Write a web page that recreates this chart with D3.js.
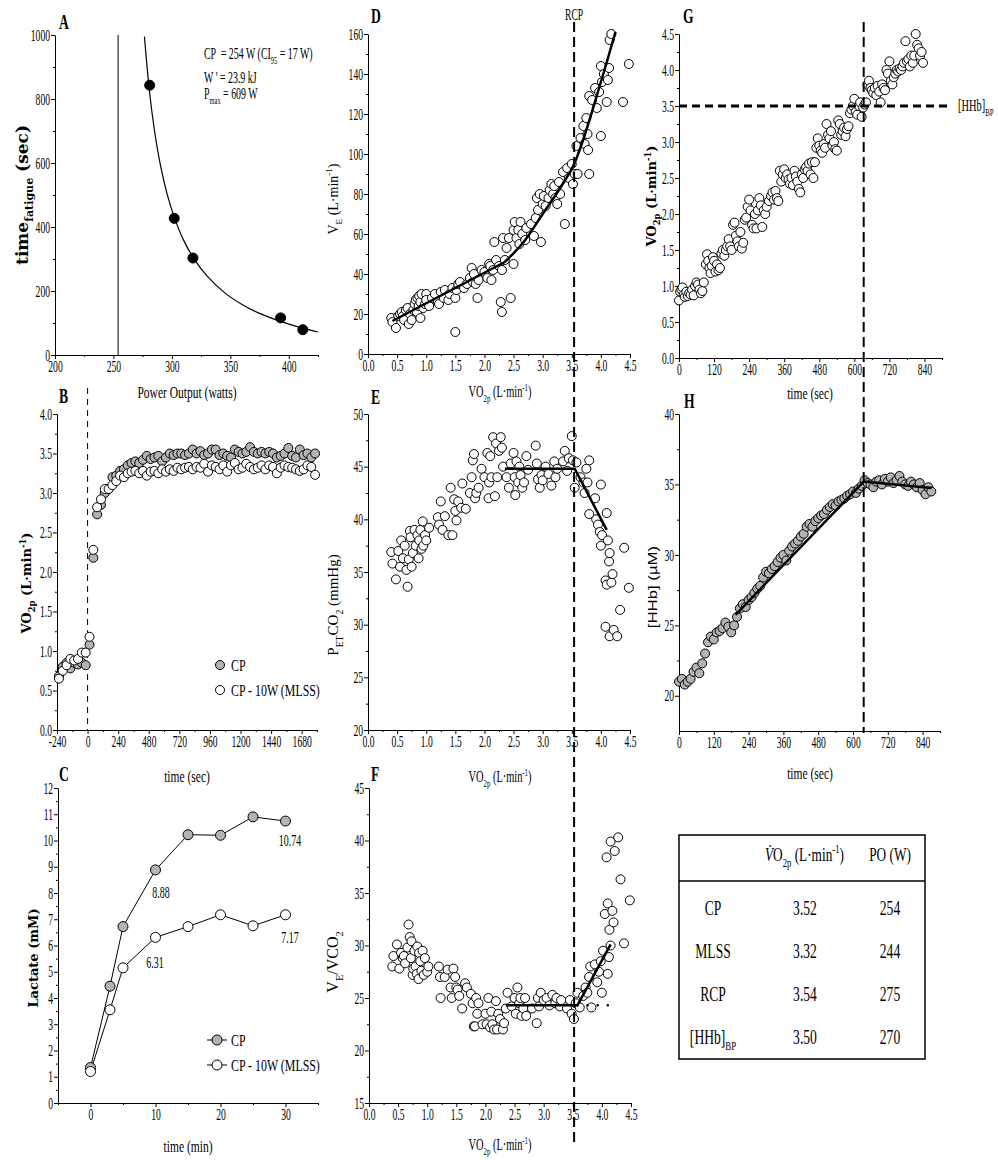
<!DOCTYPE html>
<html>
<head>
<script src="https://d3js.org/d3.v7.min.js"></script>
<style>
  body { margin: 0; background: #fff; }
  text { white-space: pre; }
</style>
</head>
<body>
<script>
// ---- A: time to fatigue vs power
var aPower = [281, 302, 318, 393, 412];
var aTime = [843, 427, 303, 116, 79];
var aFitPower = [276.5, 281, 285, 290, 296, 302, 310, 318, 330, 345, 360, 375, 393, 412, 425];
var aFitTime = [995, 818, 704, 597, 502, 431, 359, 306, 247, 195, 158, 130, 105, 84, 72];
var aCP = 254;

// ---- B: VO2 during constant load (30 s bins)
var bTime = [-225, -195, -165, -135, -105, -75, -45, -15,
  15, 45, 75, 105, 135, 165, 195, 225, 255, 285,
  315, 345, 375, 405, 435, 465, 495, 525, 555, 585,
  615, 645, 675, 705, 735, 765, 795, 825, 855, 885,
  915, 945, 975, 1005, 1035, 1065, 1095, 1125, 1155, 1185,
  1215, 1245, 1275, 1305, 1335, 1365, 1395, 1425, 1455, 1485,
  1515, 1545, 1575, 1605, 1635, 1665, 1695, 1725, 1755, 1785];
var bCP = [0.68, 0.80, 0.85, 0.78, 0.85, 0.83, 0.85, 0.82,
  1.08, 2.18, 2.73, 2.85, 3.00, 3.05, 3.20, 3.22, 3.28, 3.30,
  3.35, 3.38, 3.40, 3.38, 3.42, 3.47, 3.43, 3.45, 3.47, 3.40,
  3.45, 3.50, 3.48, 3.50, 3.50, 3.48, 3.50, 3.55, 3.50, 3.53,
  3.48, 3.50, 3.55, 3.55, 3.48, 3.50, 3.47, 3.45, 3.55, 3.52,
  3.50, 3.52, 3.58, 3.52, 3.50, 3.52, 3.50, 3.52, 3.50, 3.45,
  3.47, 3.50, 3.57, 3.47, 3.45, 3.55, 3.48, 3.50, 3.45, 3.50];
var bMLSS = [0.65, 0.75, 0.82, 0.90, 0.88, 0.90, 0.98, 0.98,
  1.18, 2.28, 2.82, 2.92, 3.05, 3.05, 3.10, 3.15, 3.22, 3.20,
  3.25, 3.27, 3.28, 3.25, 3.28, 3.22, 3.27, 3.28, 3.25, 3.30,
  3.27, 3.30, 3.28, 3.32, 3.30, 3.32, 3.33, 3.30, 3.33, 3.32,
  3.37, 3.27, 3.35, 3.33, 3.30, 3.35, 3.27, 3.35, 3.38, 3.30,
  3.32, 3.37, 3.33, 3.30, 3.32, 3.35, 3.30, 3.35, 3.33, 3.25,
  3.32, 3.35, 3.33, 3.32, 3.30, 3.28, 3.30, 3.35, 3.33, 3.23];

// ---- C: lactate
var cTime = [0, 3, 5, 10, 15, 20, 25, 30];
var cCP = [1.35, 4.45, 6.72, 8.88, 10.22, 10.2, 10.9, 10.74];
var cMLSS = [1.2, 3.55, 5.15, 6.31, 6.72, 7.17, 6.75, 7.17];

// ---- D: VE vs VO2
var dPts = [[0.40,18],[0.42,16],[0.48,13],[0.52,19],[0.55,20],[0.58,21],[0.60,19],[0.62,17],[0.65,22],[0.68,23],
  [0.70,15],[0.72,20],[0.75,17],[0.78,22],[0.80,25],[0.82,27],[0.84,21],[0.85,28],[0.87,24],[0.88,29],
  [0.90,18],[0.90,26],[0.92,30],[0.95,23],[0.98,25],[1.00,30],[1.00,27],[1.05,24],[1.10,28],[1.15,30],
  [1.20,26],[1.22,25],[1.25,31],[1.30,28],[1.32,32],[1.38,27],[1.40,30],[1.45,33],[1.50,11],[1.50,28],
  [1.52,32],[1.55,35],[1.58,36],[1.65,33],[1.70,35],[1.75,38],[1.78,43],[1.80,36],[1.82,40],[1.85,35],
  [1.88,28],[1.90,37],[1.95,42],[2.00,41],[2.05,38],[2.08,45],[2.10,44],[2.12,37],[2.15,42],[2.17,56],
  [2.20,47],[2.25,44],[2.28,26],[2.30,21],[2.30,42],[2.32,58],[2.35,47],[2.38,53],[2.42,58],[2.45,28],
  [2.50,45],[2.50,62],[2.52,66],[2.55,58],[2.58,62],[2.60,55],[2.62,66],[2.65,60],[2.70,57],[2.72,63],
  [2.80,65],[2.85,59],[2.88,68],[2.90,78],[2.92,72],[2.95,80],[2.97,56],[3.00,75],[3.02,79],[3.05,74],
  [3.10,78],[3.12,82],[3.15,85],[3.18,80],[3.20,84],[3.22,78],[3.25,75],[3.28,86],[3.30,80],[3.35,91],
  [3.38,65],[3.42,93],[3.45,88],[3.50,95],[3.52,85],[3.55,90],[3.58,104],[3.60,90],[3.65,108],[3.70,114],
  [3.72,105],[3.75,118],[3.77,110],[3.78,102],[3.80,90],[3.80,129],[3.85,127],[3.90,133],[3.93,123],[3.97,131],
  [4.00,109],[4.00,144],[4.02,136],[4.05,140],[4.10,126],[4.12,137],[4.14,143],[4.15,157],[4.18,160],[4.38,126],[4.48,145]];
var dFitLow = [[0.42,16.5],[2.35,46]];
var dFitHigh = [[2.35,46],[2.7,57],[3.0,70],[3.3,83],[3.54,95],[4.0,136],[4.25,161]];

// ---- E: PETCO2 vs VO2
var ePts = [[0.40,36.9],[0.42,35.8],[0.48,34.3],[0.52,37.0],[0.55,35.5],[0.57,38.0],[0.60,36.3],[0.63,37.5],[0.66,35.2],[0.68,33.6],
  [0.70,36.2],[0.72,38.9],[0.73,38.3],[0.75,35.5],[0.77,36.8],[0.80,39.0],[0.82,37.5],[0.85,38.5],[0.87,36.3],[0.88,38.0],
  [0.90,39.0],[0.92,37.2],[0.94,39.8],[0.95,37.5],[0.98,38.5],[1.00,38.0],[1.05,39.2],[1.20,40.2],[1.22,39.5],[1.25,41.7],
  [1.28,39.0],[1.32,40.3],[1.38,38.5],[1.42,43.0],[1.45,38.5],[1.48,41.9],[1.50,40.8],[1.52,39.9],[1.55,41.7],[1.60,41.1],
  [1.62,43.4],[1.68,41.0],[1.75,42.5],[1.78,44.0],[1.80,45.6],[1.82,46.2],[1.84,42.0],[1.86,42.5],[1.90,43.0],[1.95,44.8],
  [2.00,44.0],[2.05,46.3],[2.07,42.0],[2.08,43.5],[2.10,46.0],[2.12,44.0],[2.15,47.8],[2.18,42.2],[2.20,47.2],[2.22,44.0],
  [2.25,46.5],[2.28,47.8],[2.30,46.8],[2.32,45.0],[2.38,44.0],[2.42,43.0],[2.45,45.3],[2.50,46.3],[2.52,44.0],[2.53,42.3],
  [2.55,45.5],[2.58,43.5],[2.60,45.0],[2.62,44.2],[2.65,43.0],[2.68,43.5],[2.72,46.0],[2.75,44.7],[2.88,47.0],[2.90,45.3],
  [2.92,43.8],[2.95,43.0],[2.98,44.2],[3.00,43.7],[3.05,45.0],[3.10,44.3],[3.15,43.2],[3.20,45.5],[3.22,44.0],[3.25,44.8],
  [3.35,45.5],[3.38,46.5],[3.42,44.6],[3.45,45.8],[3.50,47.9],[3.52,45.6],[3.55,43.0],[3.58,45.4],[3.65,44.0],[3.70,43.5],
  [3.72,42.5],[3.75,44.8],[3.77,43.5],[3.80,45.6],[3.80,40.5],[3.90,42.0],[3.92,40.0],[3.95,39.5],[3.98,38.8],[4.00,43.3],
  [4.00,37.5],[4.02,38.5],[4.08,34.2],[4.10,40.6],[4.10,33.8],[4.12,38.0],[4.14,36.0],[4.15,36.8],[4.18,34.0],[4.20,34.8],
  [4.08,29.8],[4.15,28.9],[4.22,29.5],[4.28,28.9],[4.33,31.4],[4.40,37.3],[4.48,33.5]];
var eFit = [[2.35,44.8],[3.55,44.8],[4.1,39.0]];

// ---- F: VE/VCO2 vs VO2
var fPts = [[0.40,28.0],[0.42,29.0],[0.48,30.1],[0.52,27.8],[0.55,29.3],[0.58,28.8],[0.60,29.0],[0.62,28.3],[0.66,29.8],[0.68,32.0],
  [0.70,30.8],[0.72,28.8],[0.73,30.4],[0.75,27.2],[0.76,27.8],[0.78,29.5],[0.80,28.0],[0.82,27.3],[0.83,29.9],[0.85,26.8],
  [0.86,29.3],[0.88,28.5],[0.90,27.6],[0.92,29.5],[0.94,27.2],[0.96,28.8],[1.00,27.5],[1.02,28.0],[1.20,28.0],[1.22,27.0],
  [1.23,25.0],[1.30,27.0],[1.35,27.7],[1.40,26.0],[1.42,25.0],[1.45,27.8],[1.48,27.0],[1.50,26.0],[1.52,25.8],[1.55,25.2],
  [1.60,24.0],[1.65,26.4],[1.68,26.0],[1.75,25.4],[1.78,24.5],[1.80,22.3],[1.82,22.3],[1.84,25.0],[1.86,23.5],[1.88,24.5],
  [1.95,22.5],[2.00,23.5],[2.02,22.5],[2.05,25.0],[2.08,22.2],[2.10,23.7],[2.12,22.5],[2.15,22.0],[2.18,24.7],[2.20,22.0],
  [2.22,23.5],[2.25,23.0],[2.30,22.0],[2.32,22.6],[2.35,24.0],[2.38,25.5],[2.45,24.2],[2.50,25.0],[2.52,23.5],[2.55,26.0],
  [2.58,24.5],[2.60,25.0],[2.62,23.3],[2.65,24.0],[2.68,25.0],[2.70,23.3],[2.80,24.0],[2.88,22.6],[2.90,25.0],[2.92,24.2],
  [2.95,25.5],[3.00,24.8],[3.05,25.0],[3.10,24.3],[3.15,25.3],[3.20,24.5],[3.22,25.0],[3.28,24.2],[3.30,24.8],[3.40,24.0],
  [3.45,24.8],[3.48,23.5],[3.52,23.0],[3.55,24.5],[3.58,25.5],[3.62,24.1],[3.68,25.2],[3.72,26.0],[3.75,25.5],[3.78,27.0],
  [3.80,28.0],[3.82,24.1],[3.88,28.2],[3.92,26.5],[3.95,27.5],[3.98,28.5],[4.00,25.5],[4.02,29.5],[4.05,33.0],[4.08,38.4],
  [4.10,34.0],[4.10,27.3],[4.12,28.9],[4.13,31.5],[4.15,30.0],[4.15,39.9],[4.18,33.3],[4.20,32.2],[4.22,39.0],[4.28,40.3],
  [4.32,36.3],[4.38,30.2],[4.48,34.3]];
var fFit = [[2.35,24.3],[3.58,24.3],[4.15,30.1]];
var fExtend = [[3.58,24.3],[4.25,24.3]];

// ---- G: VO2 vs time (ramp)
var gPts = [[0,0.80],[4,0.92],[8,0.95],[12,0.98],[16,0.88],[20,0.85],[25,0.92],[30,0.86],[35,0.90],[40,0.88],
  [45,0.95],[50,0.87],[55,1.00],[60,1.05],[65,1.02],[70,0.95],[75,0.90],[80,0.93],[85,1.05],[92,1.30],
  [96,1.44],[100,1.35],[104,1.25],[108,1.18],[112,1.28],[116,1.40],[120,1.35],[125,1.20],[130,1.30],[135,1.22],
  [140,1.25],[145,1.45],[150,1.50],[155,1.42],[160,1.50],[165,1.55],[170,1.65],[175,1.55],[180,1.50],[185,1.85],
  [190,1.88],[195,1.70],[200,1.62],[205,1.55],[210,1.75],[215,1.52],[220,1.60],[225,1.92],[230,1.95],[235,2.10],
  [240,2.20],[245,2.05],[250,1.85],[255,1.80],[260,2.00],[265,1.80],[270,2.05],[275,2.22],[280,2.12],[285,1.82],
  [290,2.05],[295,2.00],[300,2.10],[308,2.18],[315,2.25],[320,2.30],[325,2.20],[330,2.32],[335,2.22],[340,2.18],
  [345,2.60],[350,2.45],[355,2.55],[360,2.62],[365,2.50],[370,2.55],[375,2.48],[380,2.42],[385,2.50],[390,2.40],
  [395,2.60],[400,2.52],[405,2.45],[410,2.35],[415,2.30],[420,2.55],[425,2.50],[430,2.62],[435,2.65],[440,2.60],
  [445,2.70],[450,2.55],[455,2.72],[460,2.50],[465,2.72],[470,2.92],[475,3.05],[480,2.95],[485,2.88],[490,2.85],
  [495,2.97],[500,2.92],[505,3.25],[510,3.10],[515,3.05],[520,3.15],[525,2.95],[530,3.00],[535,2.90],[540,2.88],
  [545,3.30],[550,3.25],[555,3.10],[560,3.15],[565,3.20],[570,3.08],[575,3.18],[580,3.22],[585,3.40],[590,3.45],
  [595,3.50],[600,3.60],[605,3.42],[610,3.38],[615,3.50],[620,3.55],[625,3.35],[630,3.48],[635,3.52],[640,3.55],
  [645,3.80],[650,3.85],[655,3.75],[660,3.72],[665,3.68],[670,3.75],[675,3.65],[680,3.78],[685,3.70],[690,3.55],
  [695,3.80],[700,3.75],[705,3.72],[710,4.00],[715,3.95],[720,4.12],[725,3.85],[730,3.80],[735,3.90],[740,3.95],
  [745,4.00],[750,3.98],[755,4.02],[760,4.00],[765,4.05],[770,4.10],[775,4.40],[780,4.12],[785,4.15],[790,4.05],
  [795,4.20],[800,4.10],[805,4.20],[810,4.50],[815,4.35],[820,4.30],[825,4.20],[830,4.25],[835,4.10]];
var gBreakTime = 632;
var gBreakVO2 = 3.5;

// ---- H: [HHb] vs time
var hPts = [[0,21.0],[10,21.2],[20,20.8],[30,21.0],[40,21.2],[50,21.7],[60,22.0],[70,21.6],[80,22.3],[90,23.0],
  [100,23.8],[110,24.2],[120,24.0],[130,24.5],[140,24.6],[150,24.8],[160,25.2],[170,24.9],[180,24.5],[190,25.0],
  [200,25.6],[210,26.2],[220,26.5],[230,26.3],[240,26.8],[250,27.0],[260,27.3],[270,27.6],[280,27.8],[290,28.4],
  [300,28.8],[310,28.7],[320,29.0],[330,29.2],[340,29.5],[350,29.8],[360,30.0],[370,29.6],[380,30.3],[390,30.6],
  [400,30.8],[410,31.0],[420,31.3],[430,31.5],[440,32.0],[450,32.2],[460,32.0],[470,32.4],[480,32.6],[490,32.8],
  [500,32.9],[510,33.2],[520,33.4],[530,33.6],[540,33.5],[550,33.8],[560,33.9],[570,34.0],[580,34.2],[590,34.3],
  [600,34.5],[610,34.4],[620,34.7],[630,34.9],[640,35.3],[650,35.1],[660,35.0],[670,34.8],[680,35.2],[690,35.3],
  [700,35.0],[710,35.4],[720,35.2],[730,35.5],[740,35.1],[750,35.3],[760,35.6],[770,35.2],[780,35.0],[790,34.9],
  [800,35.2],[810,35.0],[820,34.8],[830,35.1],[840,34.6],[850,34.3],[860,34.8],[870,34.5]];
var hFit = [[195,25.75],[637,35.2],[871,34.75]];

// ---- table
var tRows = ["CP", "MLSS", "RCP", "[HHb]"];
var tVO2 = ["3.52", "3.32", "3.54", "3.50"];
var tPO = ["254", "244", "275", "270"];

// ---- tick labels
var tickA_x = [200, 250, 300, 350, 400], tickA_y = [0, 200, 400, 600, 800, 1000];
var tickB_x = [-240, 0, 240, 480, 720, 960, 1200, 1440, 1680], tickB_y = [0, 0.5, 1, 1.5, 2, 2.5, 3, 3.5, 4];
var tickC_x = [0, 10, 20, 30], tickC_y = [0, 1, 2, 3, 4, 5, 6, 7, 8, 9, 10, 11, 12];
var tickV_x = [0, 0.5, 1, 1.5, 2, 2.5, 3, 3.5, 4, 4.5];
var tickD_y = [0, 20, 40, 60, 80, 100, 120, 140, 160];
var tickE_y = [20, 25, 30, 35, 40, 45, 50];
var tickF_y = [15, 20, 25, 30, 35, 40, 45];
var tickT_x = [0, 120, 240, 360, 480, 600, 720, 840];
var tickG_y = [0, 0.5, 1, 1.5, 2, 2.5, 3, 3.5, 4, 4.5];
var tickH_y = [20, 25, 30, 35, 40];

var SERIF = "'Liberation Serif', 'Times New Roman', serif";
var WIDE = "'DejaVu Serif', serif";
var GREY = "#b3b3b3";
var f1 = d3.format(".1f");

var svg = d3.select("body").append("svg").attr("width", 998).attr("height", 1165);

// squeeze text horizontally (the figure uses a narrow Times face)
function squeeze(sel, k) {
    sel.each(function() {
        var t = d3.select(this);
        var x = +t.attr("x") || 0;
        t.attr("x", x / k);
        t.attr("transform", (t.attr("transform") || "") + " scale(" + k + ",1)");
    });
}

function rich(x, y, parts, o) {
    o = o || {};
    var size = o.size || 16;
    var tr = "translate(" + x + "," + y + ")";
    if (o.rot) tr += " rotate(" + o.rot + ")";
    if (o.k) tr += " scale(" + o.k + ",1)";
    var t = svg.append("text").attr("transform", tr)
        .attr("text-anchor", o.anchor || "start")
        .attr("font-family", o.font || SERIF)
        .attr("font-size", size)
        .attr("font-weight", o.bold ? "bold" : "normal");
    var shift = 0;
    parts.forEach(function(p) {
        var s = typeof p === "string" ? p : p[0];
        var kind = typeof p === "string" ? null : p[1];
        var target = kind === "sub" ? size * 0.3 : kind === "sup" ? -size * 0.4 : 0;
        var small = kind === "sub" || kind === "sup";
        t.append("tspan").attr("dy", target - shift)
            .attr("font-size", small ? size * 0.65 : size)
            .attr("font-style", kind === "it" ? "italic" : null)
            .text(s);
        shift = target;
    });
    return t;
}

function frame(p) {
    var x = d3.scaleLinear().domain(p.xd).range(p.xr);
    var y = d3.scaleLinear().domain(p.yd).range(p.yr);
    var gx = svg.append("g").attr("transform", "translate(0," + p.yr[0] + ")");
    gx.call(d3.axisBottom(x).tickValues(p.xt).tickFormat(p.xf || String).tickSize(4).tickSizeOuter(0).tickPadding(2));
    gx.append("g").call(d3.axisBottom(x).tickValues(p.xm).tickFormat("").tickSize(2).tickSizeOuter(0))
        .select(".domain").remove();
    var gy = svg.append("g").attr("transform", "translate(" + p.xr[0] + ",0)");
    gy.call(d3.axisLeft(y).tickValues(p.yt).tickFormat(p.yf || String).tickSize(4).tickSizeOuter(0).tickPadding(1));
    gy.append("g").call(d3.axisLeft(y).tickValues(p.ym).tickFormat("").tickSize(2).tickSizeOuter(0))
        .select(".domain").remove();
    [gx, gy].forEach(function(g) {
        g.attr("font-family", SERIF).attr("font-size", 16);
        squeeze(g.selectAll("text"), 0.6);
    });
    return { x: x, y: y };
}

function dots(data, s, fx, fy, r, fill) {
    svg.append("g").selectAll("circle").data(data).enter().append("circle")
        .attr("cx", function(d) { return s.x(fx(d)); })
        .attr("cy", function(d) { return s.y(fy(d)); })
        .attr("r", r).attr("fill", fill).attr("stroke", "#000").attr("stroke-width", 1);
}

function fitLine(data, s, w, curve) {
    svg.append("path").datum(data)
        .attr("d", d3.line().x(function(d) { return s.x(d[0]); }).y(function(d) { return s.y(d[1]); })
            .curve(curve || d3.curveLinear))
        .attr("fill", "none").attr("stroke", "#000").attr("stroke-width", w);
}

function halfSteps(a, b, step) { return d3.range(a, b + step / 2, step); }

// ================= A
var A = frame({ xr: [55, 318], yr: [355, 35], xd: [200, 425], yd: [0, 1000],
    xt: tickA_x, xm: halfSteps(225, 425, 50), yt: tickA_y, ym: halfSteps(100, 900, 200) });
svg.append("line").attr("x1", A.x(aCP)).attr("x2", A.x(aCP)).attr("y1", 35).attr("y2", 355)
    .attr("stroke", "#000").attr("stroke-width", 1);
fitLine(d3.zip(aFitPower, aFitTime), A, 1.2, d3.curveCatmullRom);
dots(d3.zip(aPower, aTime), A, function(d) { return d[0]; }, function(d) { return d[1]; }, 5, "#000");
rich(204, 59, ["CP  = 254 W (CI", ["95", "sub"], " = 17 W)"], { size: 16, k: 0.62 });
rich(204, 83, ["W ' = 23.9 kJ"], { size: 16, k: 0.62 });
rich(204, 99, ["P", ["max", "sub"], " = 609 W"], { size: 16, k: 0.62 });
rich(28, 195, ["time", ["fatigue", "sub"], " (sec)"], { size: 17, rot: -90, anchor: "middle", font: WIDE, bold: true });
rich(187, 398, ["Power Output (watts)"], { size: 16, k: 0.72, anchor: "middle" });

// ================= B
var B = frame({ xr: [57, 317], yr: [730, 414], xd: [-240, 1800], yd: [0, 4],
    xt: tickB_x, xm: halfSteps(-120, 1800, 240), yt: tickB_y, yf: f1, ym: halfSteps(0.25, 3.75, 0.5) });
svg.append("line").attr("x1", B.x(0)).attr("x2", B.x(0)).attr("y1", 388).attr("y2", 730)
    .attr("stroke", "#000").attr("stroke-width", 1).attr("stroke-dasharray", "6,5");
dots(d3.zip(bTime, bCP), B, function(d) { return d[0]; }, function(d) { return d[1]; }, 4.5, GREY);
dots(d3.zip(bTime, bMLSS), B, function(d) { return d[0]; }, function(d) { return d[1]; }, 4.5, "#fff");
svg.append("circle").attr("cx", 220).attr("cy", 665).attr("r", 4.5).attr("fill", GREY).attr("stroke", "#000");
svg.append("circle").attr("cx", 220).attr("cy", 690).attr("r", 4.5).attr("fill", "#fff").attr("stroke", "#000");
rich(231, 671, ["CP"], { size: 17, k: 0.7 });
rich(231, 696, ["CP - 10W (MLSS)"], { size: 17, k: 0.7 });
rich(31, 583, ["VO", ["2p", "sub"], " (L\u00b7min", ["-1", "sup"], ")"], { size: 13, rot: -90, anchor: "middle", font: WIDE, bold: true });
rich(187, 782, ["time (sec)"], { size: 16, k: 0.72, anchor: "middle" });

// ================= C
var C = frame({ xr: [58, 318], yr: [1103, 788], xd: [-5, 35], yd: [0, 12],
    xt: tickC_x, xm: halfSteps(-5, 35, 10), yt: tickC_y, ym: halfSteps(0.5, 11.5, 1) });
var cLine = d3.line().x(function(d) { return C.x(d[0]); }).y(function(d) { return C.y(d[1]); });
svg.append("path").datum(d3.zip(cTime, cCP)).attr("d", cLine).attr("fill", "none").attr("stroke", "#000");
svg.append("path").datum(d3.zip(cTime, cMLSS)).attr("d", cLine).attr("fill", "none").attr("stroke", "#000");
dots(d3.zip(cTime, cCP), C, function(d) { return d[0]; }, function(d) { return d[1]; }, 5, GREY);
dots(d3.zip(cTime, cMLSS), C, function(d) { return d[0]; }, function(d) { return d[1]; }, 5, "#fff");
rich(161, 898, ["8.88"], { size: 16, k: 0.62, anchor: "middle" });
rich(155, 968, ["6.31"], { size: 16, k: 0.62, anchor: "middle" });
rich(290, 846, ["10.74"], { size: 16, k: 0.62, anchor: "middle" });
rich(290, 943, ["7.17"], { size: 16, k: 0.62, anchor: "middle" });
[[1040, GREY, "CP"], [1065, "#fff", "CP - 10W (MLSS)"]].forEach(function(l) {
    svg.append("line").attr("x1", 207).attr("x2", 227).attr("y1", l[0]).attr("y2", l[0]).attr("stroke", "#000");
    svg.append("circle").attr("cx", 217).attr("cy", l[0]).attr("r", 5).attr("fill", l[1]).attr("stroke", "#000");
    rich(231, l[0] + 6, [l[2]], { size: 17, k: 0.7 });
});
rich(38, 958, ["Lactate (mM)"], { size: 13, rot: -90, anchor: "middle", font: WIDE, bold: true });
rich(188, 1152, ["time (min)"], { size: 16, k: 0.72, anchor: "middle" });

// ================= D, E, F
var D = frame({ xr: [368, 630], yr: [354, 34], xd: [0, 4.5], yd: [0, 160],
    xt: tickV_x, xf: f1, xm: halfSteps(0.25, 4.25, 0.5), yt: tickD_y, ym: halfSteps(10, 150, 20) });
dots(dPts, D, function(d) { return d[0]; }, function(d) { return d[1]; }, 4.5, "#fff");
fitLine(dFitLow, D, 2.5);
fitLine(dFitHigh, D, 2.5, d3.curveMonotoneX);

var E = frame({ xr: [368, 630], yr: [730, 414], xd: [0, 4.5], yd: [20, 50],
    xt: tickV_x, xf: f1, xm: halfSteps(0.25, 4.25, 0.5), yt: tickE_y, ym: halfSteps(22.5, 47.5, 5) });
dots(ePts, E, function(d) { return d[0]; }, function(d) { return d[1]; }, 4.5, "#fff");
fitLine(eFit, E, 2.5);

var F = frame({ xr: [369, 631], yr: [1103, 788], xd: [0, 4.5], yd: [15, 45],
    xt: tickV_x, xf: f1, xm: halfSteps(0.25, 4.25, 0.5), yt: tickF_y, ym: halfSteps(17.5, 42.5, 5) });
dots(fPts, F, function(d) { return d[0]; }, function(d) { return d[1]; }, 4.5, "#fff");
fitLine(fFit, F, 2.5);
svg.append("path").datum(fExtend)
    .attr("d", d3.line().x(function(d) { return F.x(d[0]); }).y(function(d) { return F.y(d[1]); }))
    .attr("fill", "none").attr("stroke", "#000").attr("stroke-width", 2.5)
    .attr("stroke-linecap", "round").attr("stroke-dasharray", "0.1,10");

var rcpX = D.x(3.54);
svg.append("line").attr("x1", rcpX).attr("x2", rcpX).attr("y1", 22).attr("y2", 1143)
    .attr("stroke", "#000").attr("stroke-width", 2).attr("stroke-dasharray", "10,5");
rich(rcpX, 20, ["RCP"], { size: 16, k: 0.6, anchor: "middle" });
rich(338, 199, ["V", ["E", "sub"], " (L\u00b7min", ["-1", "sup"], ")"], { size: 14, rot: -90, anchor: "middle" });
rich(338, 605, ["P", ["ET", "sub"], "CO", ["2", "sub"], " (mmHg)"], { size: 15, rot: -90, anchor: "middle" });
rich(338, 962, ["V", ["E", "sub"], "/VCO", ["2", "sub"]], { size: 16, rot: -90, anchor: "middle" });
[397, 782, 1150].forEach(function(yy) {
    rich(500, yy, ["VO", ["2p", "sub"], " (L\u00b7min", ["-1", "sup"], ")"], { size: 16, k: 0.65, anchor: "middle" });
});

// ================= G
var G = frame({ xr: [679, 942], yr: [358, 34], xd: [0, 900], yd: [0, 4.5],
    xt: tickT_x, xm: halfSteps(60, 900, 120), yt: tickG_y, yf: f1, ym: halfSteps(0.25, 4.25, 0.5) });
dots(gPts, G, function(d) { return d[0]; }, function(d) { return d[1]; }, 4.5, "#fff");
svg.append("line").attr("x1", 679).attr("x2", 950).attr("y1", G.y(gBreakVO2)).attr("y2", G.y(gBreakVO2))
    .attr("stroke", "#000").attr("stroke-width", 3).attr("stroke-dasharray", "8,5");
rich(958, G.y(gBreakVO2) + 5, ["[HHb]", ["BP", "sub"]], { size: 16, k: 0.65 });
rich(656, 196, ["VO", ["2p", "sub"], " (L\u00b7min", ["-1", "sup"], ")"], { size: 13, rot: -90, anchor: "middle", font: WIDE, bold: true });
rich(810, 399, ["time (sec)"], { size: 16, k: 0.72, anchor: "middle" });

// ================= H
var H = frame({ xr: [679, 940], yr: [731, 414], xd: [0, 900], yd: [17.5, 40],
    xt: tickT_x, xm: halfSteps(60, 900, 120), yt: tickH_y, ym: halfSteps(22.5, 37.5, 5) });
dots(hPts, H, function(d) { return d[0]; }, function(d) { return d[1]; }, 4.5, GREY);
fitLine(hFit, H, 2.5);
var brkX = G.x(gBreakTime);
svg.append("line").attr("x1", brkX).attr("x2", brkX).attr("y1", 22).attr("y2", 733)
    .attr("stroke", "#000").attr("stroke-width", 2).attr("stroke-dasharray", "10,5");
rich(657, 587, ["[HHb] (\u00b5M)"], { size: 12, rot: -90, anchor: "middle", font: "'Liberation Sans', Arial, sans-serif", k: 1.4 });
rich(810, 779, ["time (sec)"], { size: 16, k: 0.72, anchor: "middle" });

// ================= panel letters
[["A", 59, 29], ["B", 59, 403], ["C", 59, 781], ["D", 371, 23], ["E", 371, 404],
 ["F", 371, 781], ["G", 683, 23], ["H", 684, 408]].forEach(function(l) {
    rich(l[1], l[2], [l[0]], { size: 22, k: 0.62, bold: true });
});

// ================= table
svg.append("rect").attr("x", 679).attr("y", 835).attr("width", 246).attr("height", 224)
    .attr("fill", "none").attr("stroke", "#000").attr("stroke-width", 1.5);
svg.append("line").attr("x1", 679).attr("x2", 925).attr("y1", 881).attr("y2", 881)
    .attr("stroke", "#000").attr("stroke-width", 1.5);
rich(765, 861, [["V\u0307", "it"], "O", ["2p", "sub"], " (L\u00b7min", ["-1", "sup"], ")"], { size: 19, k: 0.7 });
rich(890, 861, ["PO (W)"], { size: 19, k: 0.7, anchor: "middle" });
tRows.forEach(function(r, i) {
    var yy = 915 + i * 43;
    if (r === "[HHb]") rich(713, yy, ["[HHb]", ["BP", "sub"]], { size: 20, k: 0.68, anchor: "middle" });
    else rich(713, yy, [r], { size: 20, k: 0.68, anchor: "middle" });
    rich(805, yy, [tVO2[i]], { size: 20, k: 0.68, anchor: "middle" });
    rich(890, yy, [tPO[i]], { size: 20, k: 0.68, anchor: "middle" });
});
</script>
</body>
</html>
